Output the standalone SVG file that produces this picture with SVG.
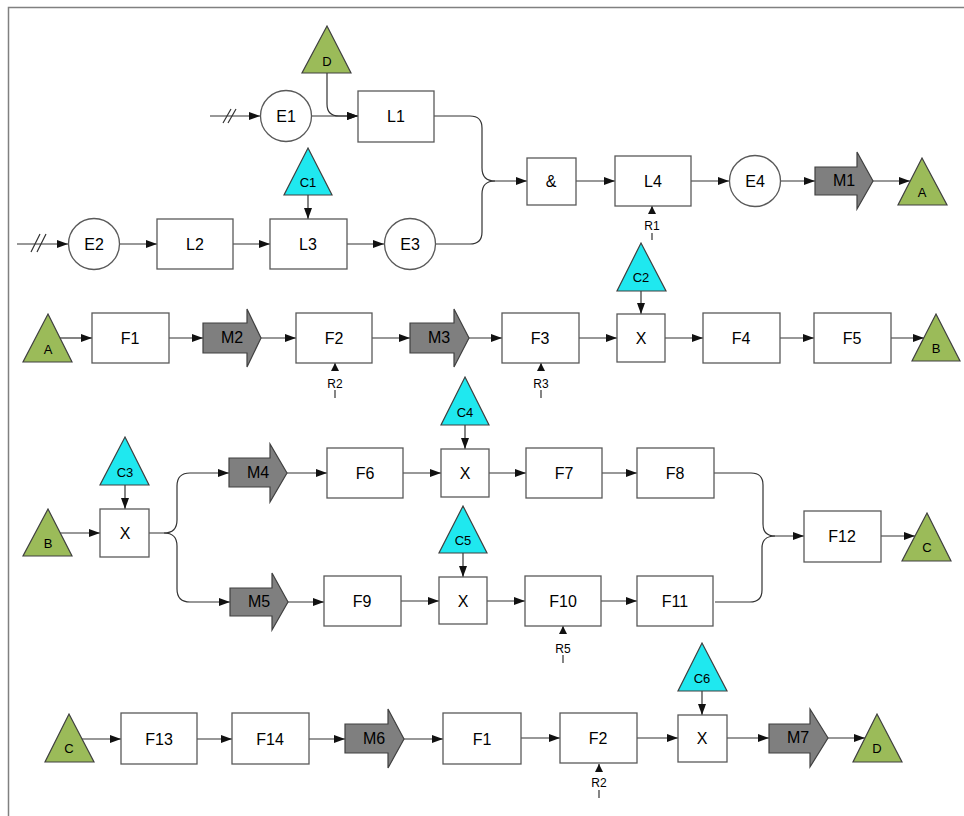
<svg xmlns="http://www.w3.org/2000/svg" width="964" height="816" viewBox="0 0 964 816">
<defs>
<marker id="ah" markerUnits="userSpaceOnUse" markerWidth="11" markerHeight="8" refX="11" refY="4" orient="auto"><path d="M0,0 L11,4 L0,8 z" fill="#111"/></marker>
<marker id="ahs" markerUnits="userSpaceOnUse" markerWidth="8" markerHeight="8" refX="8" refY="4" orient="auto"><path d="M0,0 L8,4 L0,8 z" fill="#111"/></marker>
</defs>
<style>
.box{fill:#fff;stroke:#595959;stroke-width:1.3}
.ev{fill:#fff;stroke:#595959;stroke-width:1.3}
.mv{fill:#7f7f7f;stroke:#404040;stroke-width:1.2}
.tg{fill:#9bbb59;stroke:#404040;stroke-width:1.2}
.tc{fill:#1fe8ef;stroke:#404040;stroke-width:1.2}
.c{fill:none;stroke:#333;stroke-width:1.2;marker-end:url(#ah)}
.cn{fill:none;stroke:#333;stroke-width:1.2}
.r{fill:none;stroke:#333;stroke-width:1.2;marker-end:url(#ahs)}
text{font-family:"Liberation Sans",Arial,sans-serif;text-anchor:middle;fill:#000}
.t{font-size:16px}
.s{font-size:13px}
.rs{font-size:12px}
</style>
<g id="frame"><path d="M8.5,816 V7.5 H964" fill="none" stroke="#808080" stroke-width="1.5"/></g>

<g id="connectors">
<!-- top -->
<path class="c" d="M210,116 H260"/>
<path class="cn" d="M223,123 L231,109 M228,123 L236,109"/>
<path class="c" d="M312,116 H358"/>
<path class="c" d="M327,73 V104 Q327,116 339,116 H358"/>
<path class="c" d="M17,244 H68"/>
<path class="cn" d="M31,252 L40,234 M37,252 L46,234"/>
<path class="c" d="M120,244 H157"/>
<path class="c" d="M233,244 H270"/>
<path class="c" d="M308,195 V219"/>
<path class="c" d="M347,244 H384"/>
<path class="c" d="M434,116 H470 Q482,116 482,128 V168 Q482,181 495,181 H527"/>
<path class="cn" d="M436,244 H470 Q482,244 482,232 V194 Q482,181 495,181"/>
<path class="c" d="M576,181 H615"/>
<path class="c" d="M691,181 H729"/>
<path class="c" d="M781,181 H815"/>
<path class="c" d="M873,181 H910"/>
<path class="cn" d="M652,233 V240"/>
<path class="r" d="M652,214 V206"/>
<!-- row 2 -->
<path class="c" d="M60,338 H92"/>
<path class="c" d="M169,338 H203"/>
<path class="c" d="M261,338 H296"/>
<path class="c" d="M372,338 H410"/>
<path class="c" d="M469,338 H502"/>
<path class="c" d="M579,338 H617"/>
<path class="c" d="M641,291 V314"/>
<path class="c" d="M665,338 H703"/>
<path class="c" d="M780,338 H814"/>
<path class="c" d="M891,338 H924"/>
<path class="cn" d="M335,390 V398"/>
<path class="r" d="M335,371 V363"/>
<path class="cn" d="M541,390 V398"/>
<path class="r" d="M541,371 V363"/>
<!-- row 3 -->
<path class="c" d="M60,533 H100"/>
<path class="c" d="M125,485 V509"/>
<path class="c" d="M149,533 H164 Q177,533 177,520 V486 Q177,473 190,473 H229"/>
<path class="c" d="M164,533 Q177,533 177,546 V589 Q177,602 190,602 H230"/>
<path class="c" d="M287,473 H327"/>
<path class="c" d="M403,473 H441"/>
<path class="c" d="M465,425 V449"/>
<path class="c" d="M489,473 H526"/>
<path class="c" d="M602,473 H637"/>
<path class="c" d="M288,602 H324"/>
<path class="c" d="M401,601 H439"/>
<path class="c" d="M463,553 V577"/>
<path class="c" d="M487,601 H525"/>
<path class="c" d="M601,601 H637"/>
<path class="c" d="M714,473 H751 Q763,473 763,485 V524 Q763,536 775,536 H804"/>
<path class="cn" d="M715,602 H750 Q762,602 762,590 V548 Q762,536 775,536"/>
<path class="c" d="M881,536 H915"/>
<path class="cn" d="M563,655 V663"/>
<path class="r" d="M563,634 V626"/>
<!-- row 4 -->
<path class="c" d="M81,739 H121"/>
<path class="c" d="M197,739 H232"/>
<path class="c" d="M309,739 H345"/>
<path class="c" d="M404,739 H443"/>
<path class="c" d="M521,738 H560"/>
<path class="c" d="M637,738 H678"/>
<path class="c" d="M702,691 V715"/>
<path class="c" d="M727,738 H769"/>
<path class="c" d="M828,738 H865"/>
<path class="cn" d="M599,790 V798"/>
<path class="r" d="M599,772 V764"/>
</g>

<!-- top section nodes -->
<g id="D1"><polygon class="tg" points="327,26 351,73 302,73"/><text class="s" x="327" y="66">D</text></g>
<g id="E1"><circle class="ev" cx="286" cy="116" r="25.5"/><text class="t" x="286" y="122">E1</text></g>
<g id="L1"><rect class="box" x="358" y="91" width="76" height="51"/><text class="t" x="396" y="122">L1</text></g>
<g id="C1"><polygon class="tc" points="308,148 332,195 284,195"/><text class="s" x="308" y="187">C1</text></g>
<g id="E2"><circle class="ev" cx="94" cy="244" r="25.5"/><text class="t" x="94" y="250">E2</text></g>
<g id="L2"><rect class="box" x="157" y="219" width="76" height="50"/><text class="t" x="195" y="250">L2</text></g>
<g id="L3"><rect class="box" x="270" y="219" width="77" height="50"/><text class="t" x="308" y="250">L3</text></g>
<g id="E3"><circle class="ev" cx="410" cy="244" r="25.5"/><text class="t" x="410" y="250">E3</text></g>
<g id="AND"><rect class="box" x="527" y="158" width="49" height="47"/><text class="t" x="551" y="187">&amp;</text></g>
<g id="L4"><rect class="box" x="615" y="156" width="76" height="50"/><text class="t" x="653" y="187">L4</text></g>
<g id="R1"><text class="rs" x="652" y="230">R1</text></g>
<g id="E4"><circle class="ev" cx="755" cy="181" r="25.5"/><text class="t" x="755" y="187">E4</text></g>
<g id="M1"><polygon class="mv" points="815,167 857,167 857,152 873,181 857,209 857,195 815,195"/><text class="t" x="844" y="186">M1</text></g>
<g id="A1"><polygon class="tg" points="922,158 947,205 898,205"/><text class="s" x="922" y="197">A</text></g>

<!-- row 2 -->
<g id="A2"><polygon class="tg" points="48,314 72,362 23,362"/><text class="s" x="48" y="354">A</text></g>
<g id="F1a"><rect class="box" x="92" y="313" width="77" height="50"/><text class="t" x="130" y="344">F1</text></g>
<g id="M2"><polygon class="mv" points="203,323 247,323 247,309 261,338 247,367 247,353 203,353"/><text class="t" x="232" y="343">M2</text></g>
<g id="F2a"><rect class="box" x="296" y="313" width="76" height="50"/><text class="t" x="334" y="344">F2</text></g>
<g id="R2a"><text class="rs" x="335" y="388">R2</text></g>
<g id="M3"><polygon class="mv" points="410,323 454,323 454,309 469,338 454,367 454,353 410,353"/><text class="t" x="439" y="343">M3</text></g>
<g id="F3"><rect class="box" x="502" y="313" width="77" height="50"/><text class="t" x="540" y="344">F3</text></g>
<g id="R3"><text class="rs" x="541" y="388">R3</text></g>
<g id="C2"><polygon class="tc" points="641,243 666,291 617,291"/><text class="s" x="641" y="282">C2</text></g>
<g id="X1"><rect class="box" x="617" y="314" width="48" height="48"/><text class="t" x="641" y="344">X</text></g>
<g id="F4"><rect class="box" x="703" y="313" width="77" height="50"/><text class="t" x="741" y="344">F4</text></g>
<g id="F5"><rect class="box" x="814" y="313" width="77" height="50"/><text class="t" x="852" y="344">F5</text></g>
<g id="B1"><polygon class="tg" points="936,314 960,361 912,361"/><text class="s" x="936" y="353">B</text></g>

<!-- row 3 -->
<g id="B2"><polygon class="tg" points="48,509 72,556 23,556"/><text class="s" x="48" y="548">B</text></g>
<g id="C3"><polygon class="tc" points="125,437 149,485 100,485"/><text class="s" x="125" y="477">C3</text></g>
<g id="X2"><rect class="box" x="100" y="509" width="49" height="48"/><text class="t" x="125" y="539">X</text></g>
<g id="M4"><polygon class="mv" points="229,458 270,458 270,444 287,473 270,502 270,487 229,487"/><text class="t" x="258" y="478">M4</text></g>
<g id="F6"><rect class="box" x="327" y="448" width="76" height="50"/><text class="t" x="365" y="479">F6</text></g>
<g id="C4"><polygon class="tc" points="465,377 489,425 441,425"/><text class="s" x="465" y="417">C4</text></g>
<g id="X3"><rect class="box" x="441" y="449" width="48" height="48"/><text class="t" x="465" y="479">X</text></g>
<g id="F7"><rect class="box" x="526" y="448" width="76" height="50"/><text class="t" x="564" y="479">F7</text></g>
<g id="F8"><rect class="box" x="637" y="448" width="77" height="50"/><text class="t" x="675" y="479">F8</text></g>
<g id="M5"><polygon class="mv" points="230,588 272,588 272,573 288,602 272,630 272,616 230,616"/><text class="t" x="259" y="607">M5</text></g>
<g id="F9"><rect class="box" x="324" y="576" width="77" height="50"/><text class="t" x="362" y="607">F9</text></g>
<g id="C5"><polygon class="tc" points="463,506 487,553 439,553"/><text class="s" x="463" y="545">C5</text></g>
<g id="X4"><rect class="box" x="439" y="577" width="48" height="47"/><text class="t" x="463" y="607">X</text></g>
<g id="F10"><rect class="box" x="525" y="576" width="76" height="50"/><text class="t" x="563" y="607">F10</text></g>
<g id="R5"><text class="rs" x="563" y="653">R5</text></g>
<g id="F11"><rect class="box" x="637" y="576" width="76" height="50"/><text class="t" x="675" y="607">F11</text></g>
<g id="F12"><rect class="box" x="804" y="511" width="77" height="51"/><text class="t" x="842" y="542">F12</text></g>
<g id="Cc1"><polygon class="tg" points="927,513 951,561 902,561"/><text class="s" x="927" y="552">C</text></g>

<!-- row 4 -->
<g id="Cc2"><polygon class="tg" points="69,714 94,762 45,762"/><text class="s" x="69" y="753">C</text></g>
<g id="F13"><rect class="box" x="121" y="713" width="76" height="51"/><text class="t" x="159" y="745">F13</text></g>
<g id="F14"><rect class="box" x="232" y="713" width="77" height="51"/><text class="t" x="270" y="745">F14</text></g>
<g id="M6"><polygon class="mv" points="345,724 388,724 388,709 404,739 388,768 388,753 345,753"/><text class="t" x="374" y="744">M6</text></g>
<g id="F1b"><rect class="box" x="443" y="713" width="78" height="51"/><text class="t" x="482" y="745">F1</text></g>
<g id="F2b"><rect class="box" x="560" y="713" width="77" height="50"/><text class="t" x="598" y="744">F2</text></g>
<g id="R2b"><text class="rs" x="599" y="787">R2</text></g>
<g id="C6"><polygon class="tc" points="702,643 727,691 678,691"/><text class="s" x="702" y="683">C6</text></g>
<g id="X5"><rect class="box" x="678" y="715" width="49" height="47"/><text class="t" x="702" y="744">X</text></g>
<g id="M7"><polygon class="mv" points="769,724 810,724 810,709 828,738 810,767 810,753 769,753"/><text class="t" x="798" y="743">M7</text></g>
<g id="D2"><polygon class="tg" points="877,714 902,762 853,762"/><text class="s" x="877" y="753">D</text></g>
</svg>
